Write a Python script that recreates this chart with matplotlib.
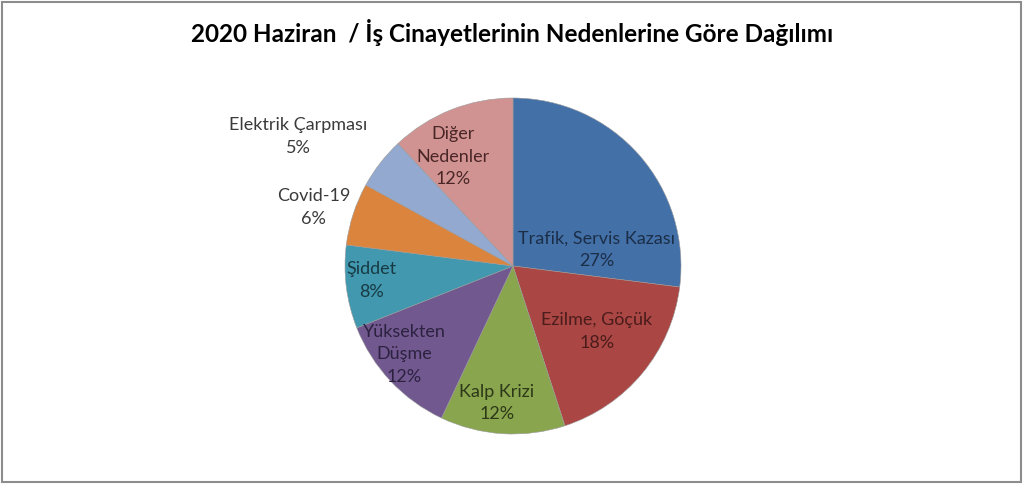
import matplotlib
matplotlib.use('Agg')
import matplotlib.pyplot as plt
from matplotlib.patches import Rectangle

plt.rcParams['font.family'] = ['Lato', 'DejaVu Sans']

# Veriler
causes = ['Trafik, Servis Kazası', 'Ezilme, Göçük', 'Kalp Krizi', 'Yüksekten\nDüşme',
          'Şiddet', 'Covid-19', 'Elektrik Çarpması', 'Diğer\nNedenler']
shares = [27, 18, 12, 12, 8, 6, 5, 12]
title = '2020 Haziran  / İş Cinayetlerinin Nedenlerine Göre Dağılımı'

# Görünüm
colors = ['#4470A8', '#AA4643', '#89A54E', '#71588F', '#4198AF', '#DB843D', '#93A9CF', '#D19392']
text_colors = ['#1b2e48', '#4a1c1b', '#2c3818', '#2c2240', '#183a44', '#3a3a3a', '#3a3a3a', '#4a2626']
# etiket konumlari (yaricap birimi)
label_pos = [(0.50, 0.104), (0.50, -0.384), (-0.095, -0.81), (-0.649, -0.518),
             (-0.84, -0.08), (-1.185, 0.354), (-1.28, 0.777), (-0.357, 0.655)]

W, H = 1024, 485
cx, cy, R = 513, 267, 168

fig = plt.figure(figsize=(W / 100, H / 100), dpi=100)
fig.patches.append(Rectangle((2 / W, 2 / H), (W - 5) / W, (H - 5) / H, transform=fig.transFigure,
                             fill=False, edgecolor='#8c8c8c', linewidth=1.5))

ax = fig.add_axes([(cx - R) / W, (H - cy - R) / H, 2 * R / W, 2 * R / H])
ax.pie(shares, colors=colors, startangle=90, counterclock=False, radius=1,
       wedgeprops={'linewidth': 0.4, 'edgecolor': '#9a9a9a'})
ax.set_xlim(-1, 1)
ax.set_ylim(-1, 1)
ax.axis('off')

for name, val, (x, y), tc in zip(causes, shares, label_pos, text_colors):
    ax.text(x, y, f'{name}\n{val}%', ha='center', va='center', fontsize=13,
            color=tc, linespacing=1.5, clip_on=False)

fig.text(0.5, 1 - 33 / H, title, ha='center', va='center', fontsize=17.5, fontweight='bold')

fig.savefig('out.png', dpi=100)
